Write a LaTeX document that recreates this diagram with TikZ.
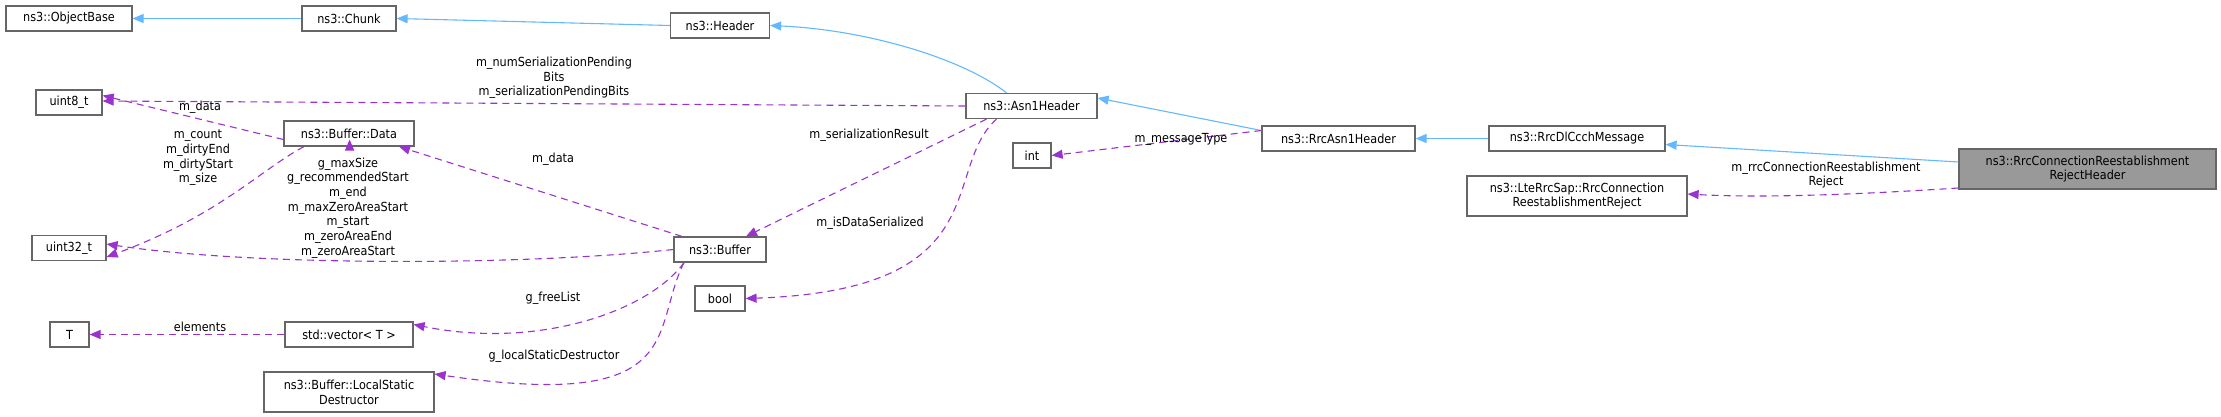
\documentclass[tikz,border=0pt]{standalone}
\usepackage{fontspec}
\setmainfont{DejaVu Sans Condensed}
\usetikzlibrary{arrows.meta}
\definecolor{inh}{HTML}{63B8FF}
\definecolor{usg}{HTML}{9A32CD}
\definecolor{bord}{HTML}{666666}
\begin{document}
\begin{tikzpicture}[x=1pt,y=-1pt,
  font=\fontsize{12.5}{14.7}\selectfont,
  box/.style={draw=bord,line width=1.2pt,fill=white,inner sep=0pt,minimum height=25pt,align=center},
  box2/.style={box,minimum height=40pt},
  inhe/.style={draw=inh,line width=1.1pt,-{Triangle[length=11pt,width=9pt,fill=inh]}},
  use/.style={draw=usg,line width=1.1pt,dash pattern=on 7pt off 5pt,-{Triangle[length=11pt,width=9pt,fill=usg]}},
  lab/.style={inner sep=0pt,align=center}]
\useasboundingbox (0,0) rectangle (2221,417);
\node[box,minimum width=126pt] (ob) at (69,18.5) {ns3::ObjectBase};
\node[box,minimum width=94pt] (chunk) at (349,18.5) {ns3::Chunk};
\node[box,minimum width=99pt] (hdr) at (720,25.5) {ns3::Header};
\node[box,minimum width=66pt] (u8) at (69,102.5) {uint8\_t};
\node[box,minimum width=130pt] (data) at (349,133.5) {ns3::Buffer::Data};
\node[box,minimum width=74pt] (u32) at (69,248) {uint32\_t};
\node[box,minimum width=92pt] (buf) at (720,249.5) {ns3::Buffer};
\node[box,minimum width=50pt] (bool) at (720,298.5) {bool};
\node[box,minimum width=39pt] (T) at (69.5,334.5) {T};
\node[box,minimum width=128pt] (vec) at (349,334.5) {std::vector\textless{} T \textgreater{}};
\node[box2,minimum width=170pt] (lsd) at (349,392) {ns3::Buffer::LocalStatic\\Destructor};
\node[box,minimum width=131pt] (asn) at (1031.5,106) {ns3::Asn1Header};
\node[box,minimum width=38pt] (int) at (1032,155.5) {int};
\node[box,minimum width=153pt] (rasn) at (1338.5,138.5) {ns3::RrcAsn1Header};
\node[box,minimum width=176pt] (dl) at (1577,138.5) {ns3::RrcDlCcchMessage};
\node[box2,minimum width=220pt] (lte) at (1577,196) {ns3::LteRrcSap::RrcConnection\\ReestablishmentReject};
\node[box2,minimum width=257pt,fill=gray!80] (rej) at (2087.5,169) {ns3::RrcConnectionReestablishment\\RejectHeader};

% inheritance
\draw[inhe] (chunk.west) -- (ob.east);
\draw[inhe] (hdr.west) -- (chunk.east);
\draw[inhe] (asn.north) ++(-25,0) coordinate (a1) (a1) .. controls (965,60) and (870,30) .. (hdr.east);
\draw[inhe] (rasn.west) ++(0,-8) coordinate (r1) (r1) -- ([yshift=8pt]asn.east);
\draw[inhe] (dl.west) -- (rasn.east);
\draw[inhe] ([yshift=7pt]rej.west) -- ([yshift=-6pt]dl.east);

% usage
\draw[use] (asn.west) -- ([yshift=1.5pt]u8.east);
\node[lab] at (554,78) {m\_numSerializationPending\\Bits\\m\_serializationPendingBits};
\draw[use] ([xshift=-65pt,yshift=-6pt]data.east) coordinate (d0);
\draw[use] ([yshift=-6pt]data.west) -- ([yshift=7pt]u8.east);
\node[lab] at (200,107) {m\_data};
\draw[use] ([xshift=-45pt]data.south) .. controls (260,170) and (220,215) .. ([yshift=-9pt]u32.east);
\node[lab] at (198,158) {m\_count\\m\_dirtyEnd\\m\_dirtyStart\\m\_size};
\draw[use] (buf.west) .. controls (520,266) and (250,266) .. ([yshift=4pt]u32.east);
\node[lab] at (348,208) {g\_maxSize\\g\_recommendedStart\\m\_end\\m\_maxZeroAreaStart\\m\_start\\m\_zeroAreaEnd\\m\_zeroAreaStart};
\draw[use] ([xshift=-38pt]buf.north) -- ([xshift=50pt]data.south);
\node[lab] at (553,159) {m\_data};
\draw[use] ([xshift=-45pt]asn.south) -- ([xshift=26pt]buf.north);
\node[lab] at (869,135) {m\_serializationResult};
\draw[use] ([xshift=-35pt]asn.south) .. controls (940,170) and (1000,290) .. (bool.east);
\node[lab] at (870,223) {m\_isDataSerialized};
\draw[use] ([yshift=8pt]rasn.west) -- (int.east);
\node[lab] at (1181,139) {m\_messageType};
\draw[use] (vec.west) -- (T.east);
\node[lab] at (200,327) {elements};
\draw[use] ([xshift=-36pt]buf.south) .. controls (650,310) and (540,350) .. ([yshift=10pt]vec.east);
\node[lab] at (553,298) {g\_freeList};
\draw[use] ([xshift=-36pt]buf.south) .. controls (650,330) and (690,412) .. ([yshift=18pt]lsd.east);
\node[lab] at (554,356) {g\_localStaticDestructor};
\draw[use] ([yshift=-19pt]rej.west) .. controls (1850,195) and (1760,198) .. ([yshift=2pt]lte.east);
\node[lab] at (1826,175) {m\_rrcConnectionReestablishment\\Reject};
\end{tikzpicture}
\end{document}
